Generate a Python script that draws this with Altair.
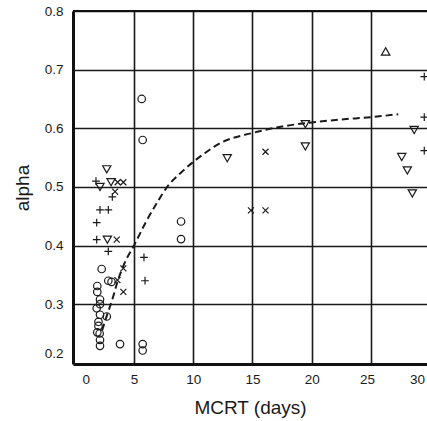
import altair as alt
import pandas as pd

# ---- data ----
circle_x = [5.65, 5.73, 8.97, 8.97, 5.73, 5.73, 3.82, 2.27, 2.83, 3.10, 1.90, 1.90,
            2.13, 2.13, 2.13, 2.70, 2.00, 2.00, 1.90, 2.10, 2.13, 2.13, 1.85]
circle_y = [0.650, 0.580, 0.441, 0.411, 0.232, 0.221, 0.232, 0.360, 0.340, 0.338, 0.331, 0.321,
            0.308, 0.300, 0.282, 0.279, 0.270, 0.263, 0.252, 0.250, 0.239, 0.229, 0.293]

plus_x = [1.79, 3.17, 2.13, 2.83, 1.85, 1.85, 2.83, 5.84, 5.93, 29.5, 29.5, 29.5]
plus_y = [0.510, 0.483, 0.461, 0.461, 0.439, 0.410, 0.390, 0.380, 0.340, 0.688, 0.619, 0.562]

cross_x = [3.62, 4.10, 3.40, 3.54, 4.10, 3.60, 4.10, 14.87, 16.10, 16.10]
cross_y = [0.508, 0.508, 0.492, 0.410, 0.361, 0.341, 0.321, 0.460, 0.460, 0.560]

down_x = [2.70, 2.13, 3.06, 2.75, 12.87, 19.46, 19.46, 28.65, 27.60, 28.07, 28.49]
down_y = [0.530, 0.500, 0.508, 0.410, 0.549, 0.569, 0.607, 0.597, 0.551, 0.528, 0.489]

up_x = [26.24]
up_y = [0.731]

curve_x = [2.3, 2.7, 3.2, 3.6, 4.2, 5.0, 6.0, 7.0, 7.8, 9.0, 10.6, 12.3, 15.0, 17.5, 20.0, 22.5, 25.0, 27.3]
curve_y = [0.255, 0.280, 0.310, 0.338, 0.370, 0.400, 0.440, 0.475, 0.500, 0.525, 0.552, 0.575,
           0.592, 0.603, 0.610, 0.615, 0.619, 0.624]

x_tick_values = [0, 5, 10, 15, 20, 25, 28.88]
x_tick_labels = ["0", "5", "10", "15", "20", "25", "30"]
y_tick_values = [0.2, 0.3, 0.4, 0.5, 0.6, 0.7, 0.8]

# ---- build tables ----
def table(name, xs, ys):
    return pd.DataFrame({"MCRT": xs, "alpha": ys, "series": name})

points = pd.concat([
    table("circle", circle_x, circle_y),
    table("plus", plus_x, plus_y),
    table("cross", cross_x, cross_y),
    table("down", down_x, down_y),
    table("up", up_x, up_y),
], ignore_index=True)
curve = pd.DataFrame({"MCRT": curve_x, "alpha": curve_y})

FONT = "Liberation Sans"
INK = "#1a1a1a"

label_map = "{" + ",".join(f"'{v}':'{l}'" for v, l in zip(x_tick_values, x_tick_labels)) + "}"

xscale = alt.Scale(domain=[-0.15, 29.73], nice=False, zero=False)
yscale = alt.Scale(domain=[0.198, 0.8], nice=False, zero=False)

x_axis = alt.Axis(
    values=x_tick_values,
    labelExpr=f"{label_map}[toString(datum.value)]",
    title="MCRT (days)",
    titleFont=FONT, titleFontSize=19, titleFontWeight="normal", titleColor=INK,
    titleBaseline="alphabetic", titleY=49,
    labelFont=FONT, labelFontSize=13.5, labelColor=INK, labelPadding=8,
    labelOffset={"condition": [{"test": "datum.value == 0", "value": 11},
                               {"test": "datum.value == 25", "value": -4}], "value": 0},
    labelFlush=False, labelOverlap=False,
    ticks=False,
    domain=True, domainColor="#111111", domainWidth=3,
    grid=True, gridColor=INK, gridWidth=1.6,
    gridOpacity={"condition": {"test": "datum.value > 28 || datum.value < 1", "value": 0}, "value": 1},
)
y_axis = alt.Axis(
    values=y_tick_values,
    format=".1f",
    title="alpha",
    titleFont=FONT, titleFontSize=19, titleFontWeight="normal", titleColor=INK,
    titleBaseline="alphabetic", titleX=-45,
    labelFont=FONT, labelFontSize=13.5, labelColor=INK, labelPadding=10,
    labelOffset={"condition": {"test": "datum.value < 0.25", "value": -9}, "value": 0},
    labelFlush=False, labelOverlap=False,
    ticks=False,
    domain=True, domainColor="#111111", domainWidth=3,
    grid=True, gridColor=INK, gridWidth=1.6,
    gridOpacity={"condition": {"test": "datum.value < 0.25", "value": 0}, "value": 1},
)

shape_scale = alt.Scale(
    domain=["circle", "plus", "cross", "down", "up"],
    range=["circle",
           "M-1,0L1,0M0,-1L0,1",
           "M-0.75,-0.75L0.75,0.75M-0.75,0.75L0.75,-0.75",
           "triangle-down",
           "triangle-up"],
)
size_scale = alt.Scale(
    domain=["circle", "plus", "cross", "down", "up"],
    range=[56, 72, 64, 60, 60],
)

pts = alt.Chart(points).mark_point(filled=False, color=INK, strokeWidth=1.2, opacity=1).encode(
    x=alt.X("MCRT:Q", scale=xscale, axis=x_axis),
    y=alt.Y("alpha:Q", scale=yscale, axis=y_axis),
    shape=alt.Shape("series:N", scale=shape_scale, legend=None),
    size=alt.Size("series:N", scale=size_scale, legend=None),
)

line = alt.Chart(curve).mark_line(color=INK, strokeWidth=2, strokeDash=[7, 4], interpolate="monotone").encode(
    x=alt.X("MCRT:Q", scale=xscale, axis=x_axis),
    y=alt.Y("alpha:Q", scale=yscale, axis=y_axis),
)

top = alt.Chart(curve).mark_rule(color="#111111", strokeWidth=2.2).encode(
    x=alt.value(0), x2=alt.value(354), y=alt.value(0)
)

chart = alt.layer(pts, line, top).properties(
    width=354, height=353,
    autosize=alt.AutoSizeParams(type="none"),
    padding={"left": 73, "top": 11, "right": 0, "bottom": 57},
    background="white",
).configure_view(stroke=None)

chart.save("out.html", embed_options={"renderer": "svg", "actions": False})
